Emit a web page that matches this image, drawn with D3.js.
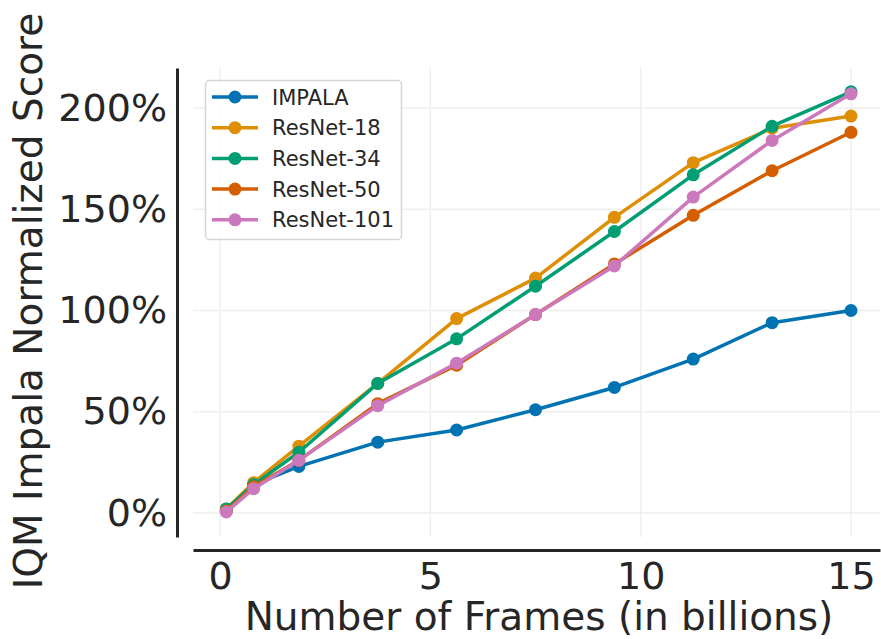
<!DOCTYPE html>
<html>
<head>
<meta charset="utf-8">
<script src="https://cdn.jsdelivr.net/npm/d3@7"></script>
<style>
  html, body { margin: 0; padding: 0; background: #fff; }
  svg { display: block; }
  text { font-family: "DejaVu Sans", sans-serif; fill: #262626; }
</style>
</head>
<body>
<svg id="chart" width="881" height="639"></svg>
<script>
const frames = [0.15, 0.8, 1.875, 3.75, 5.625, 7.5, 9.375, 11.25, 13.125, 15];
const seriesNames = ["IMPALA", "ResNet-18", "ResNet-34", "ResNet-50", "ResNet-101"];
const impala   = [1, 14, 23, 35, 41, 51, 62, 76, 94, 100];
const resnet18 = [2, 15, 33, 64, 96, 116, 146, 173, 190, 196];
const resnet34 = [2, 14, 30, 64, 86, 112, 139, 167, 191, 208];
const resnet50 = [1, 13, 26, 54, 73, 98, 123, 147, 169, 188];
const resnet101 = [0.5, 12, 26, 53, 74, 98, 122, 156, 184, 207];
const colors = ["#0173b2", "#de8f05", "#029e73", "#d55e00", "#cc78bc"];
const xTicks = [0, 5, 10, 15];
const yTicks = [0, 50, 100, 150, 200];

const seriesValues = [impala, resnet18, resnet34, resnet50, resnet101];

const svg = d3.select("#chart");
const x = d3.scaleLinear().domain([0, 15]).range([220, 851]);
const y = d3.scaleLinear().domain([0, 200]).range([513, 108]);

const xMin = x.invert(193), xMax = x.invert(880);
const yMin = y.invert(537), yMax = y.invert(68);

// grid
const grid = svg.append("g");
grid.selectAll("line.v").data(xTicks).join("line")
  .attr("x1", d => x(d)).attr("x2", d => x(d))
  .attr("y1", y(yMax)).attr("y2", y(yMin))
  .attr("stroke", "#efefef").attr("stroke-width", 1.5);
grid.selectAll("line.h").data(yTicks).join("line")
  .attr("x1", x(xMin)).attr("x2", x(xMax))
  .attr("y1", d => y(d)).attr("y2", d => y(d))
  .attr("stroke", "#efefef").attr("stroke-width", 1.5);

// axes
const xAxis = d3.axisBottom(x.copy().domain([xMin, xMax]).range([x(xMin), x(xMax)]))
  .tickValues(xTicks).tickSize(0).tickPadding(12).tickFormat(d3.format("d"));
const gx = svg.append("g").attr("transform", "translate(0,550)").call(xAxis);
gx.select(".domain").attr("stroke", "#262626").attr("stroke-width", 3);
gx.selectAll("text").style("font-size", "38px").style("font-family", "DejaVu Sans").attr("fill", "#262626");

const yAxis = d3.axisLeft(y.copy().domain([yMin, yMax]).range([y(yMin), y(yMax)]))
  .tickValues(yTicks).tickSize(0).tickPadding(10).tickFormat(d => d + "%");
const gy = svg.append("g").attr("transform", "translate(177,0)").call(yAxis);
gy.select(".domain").attr("stroke", "#262626").attr("stroke-width", 3);
gy.selectAll("text").style("font-size", "38px").style("font-family", "DejaVu Sans").attr("fill", "#262626");

// axis titles
svg.append("text").attr("x", 539).attr("y", 630)
  .attr("text-anchor", "middle").style("font-size", "39px")
  .text("Number of Frames (in billions)");
svg.append("text")
  .attr("transform", "translate(42,301) rotate(-90)")
  .attr("text-anchor", "middle").style("font-size", "39px")
  .text("IQM Impala Normalized Score");

// lines
const line = d3.line().x(d => x(d[0])).y(d => y(d[1]));
seriesValues.forEach((vals, i) => {
  const pts = frames.map((f, j) => [f, vals[j]]);
  const g = svg.append("g");
  g.append("path").datum(pts).attr("d", line)
    .attr("fill", "none").attr("stroke", colors[i]).attr("stroke-width", 3.5)
    .attr("stroke-linejoin", "round");
  g.selectAll("circle").data(pts).join("circle")
    .attr("cx", d => x(d[0])).attr("cy", d => y(d[1])).attr("r", 6.5)
    .attr("fill", colors[i]);
});

// legend
const lg = svg.append("g");
lg.append("rect").attr("x", 205.5).attr("y", 80.5).attr("width", 196).attr("height", 159)
  .attr("rx", 4).attr("fill", "#fff").attr("fill-opacity", 0.8)
  .attr("stroke", "#d6d6d6").attr("stroke-width", 1.5);
seriesNames.forEach((name, i) => {
  const cy = 97 + i * 30.7;
  lg.append("line").attr("x1", 212).attr("x2", 258).attr("y1", cy).attr("y2", cy)
    .attr("stroke", colors[i]).attr("stroke-width", 3.5);
  lg.append("circle").attr("cx", 235).attr("cy", cy).attr("r", 6.5).attr("fill", colors[i]);
  lg.append("text").attr("x", 272).attr("y", cy).attr("dy", "0.36em")
    .style("font-size", "21px").text(name);
});
</script>
</body>
</html>
